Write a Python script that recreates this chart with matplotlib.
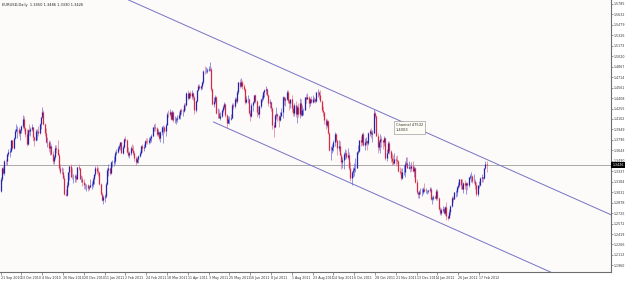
import matplotlib
matplotlib.use('Agg')
import matplotlib.pyplot as plt
import matplotlib.transforms as mtransforms
import numpy as np

symbol = "EURUSD,Daily"

# daily bars from 21 Sep 2010 to 27 Feb 2012 (prices in pips)
opens = [
 13050,13230,13380,13310,13490,13480,13590,13620,
 13630,13790,13680,13830,13920,13950,13960,13900,13940,14000,14100,13970,13880,13730,13940,13920,13950,13980,13840,13800,13920,
 13920,13890,14030,14130,14200,14030,13900,13770,13770,13680,13700,13590,13480,13540,13680,13670,13580,13380,13330,13330,13240,13000,
 12990,13140,13320,13410,13260,13250,13260,13270,13230,13400,13380,13230,13230,13180,13130,13130,13130,13090,13110,13140,13150,13230,13290,
 13380,13340,13320,13150,13000,12910,12960,12980,13150,13360,13380,13310,13470,13470,13480,13610,13620,13680,13710,13760,13600,
 13690,13810,13800,13620,13580,13600,13680,13650,13600,13530,13470,13510,13560,13610,13700,13680,13690,13780,13770,13760,
 13800,13820,13860,13980,13990,13970,13880,13910,13830,13910,13980,13990,13920,14020,14180,14170,14210,14100,14200,14090,14090,14100,14120,
 14160,14230,14220,14220,14310,14300,14480,14410,14480,14440,14480,14430,14230,14360,14520,14590,14560,14580,14640,14810,14800,
 14810,14820,14830,14830,14540,14320,14370,14420,14190,14190,14120,14150,14240,14280,14320,14160,14050,14100,14100,14120,14310,14290,
 14390,14360,14500,14640,14580,14650,14590,14540,14350,14390,14400,14190,14140,14300,14350,14460,14370,14210,14180,14290,14390,14410,
 14500,14520,14540,14460,14330,14350,14260,14020,13990,14160,14170,14150,14090,14150,14200,14420,14380,14400,14500,14360,14330,
 14390,14270,14190,14300,14170,14280,14180,14340,14160,14240,14240,14420,14400,14430,14330,14390,14350,14400,14400,14370,14490,14500,14450,
 14370,14240,14200,14090,14020,14070,13900,13650,13650,13690,13770,13880,13790,13680,13710,13580,13470,13500,13590,13600,13550,13580,
 13390,13240,13330,13350,13390,13390,13620,13630,13790,13760,13880,13720,13760,13780,13750,13890,13920,13880,13900,14190,14150,
 13860,13690,13760,13810,13790,13770,13830,13530,13610,13750,13630,13530,13480,13460,13520,13500,13490,13340,13330,13240,13320,13330,
 13440,13460,13390,13400,13390,13410,13340,13380,13180,13030,13000,13030,13040,13040,13080,13050,13050,13050,13060,13080,12930,12950,
 12960,12950,13050,12940,12780,12720,12770,12790,12720,12810,12680,12660,12740,12830,12950,12930,13030,13030,13100,13140,13220,13140,
 13080,13160,13140,13160,13140,13250,13270,13270,13200,13200,13140,13000,13130,13130,13240,13250,13240,13380,13450,
]
highs = [
 13260,13400,13420,13500,13520,13600,13660,13680,
 13800,13800,13840,13950,14030,14000,13990,13950,14020,14160,14150,13990,13950,13960,14030,13980,14030,13990,13860,13960,13960,
 14000,14050,14130,14280,14240,14050,13970,13840,13800,13780,13740,13640,13580,13720,13720,13790,13610,13440,13400,13380,13280,13080,
 13180,13330,13420,13440,13390,13300,13290,13290,13400,13450,13390,13280,13270,13230,13170,13150,13150,13130,13220,13190,13250,13300,13420,
 13430,13400,13330,13160,13040,12990,13000,13180,13380,13450,13400,13490,13500,13560,13630,13660,13700,13740,13760,13770,13720,
 13830,13860,13810,13690,13630,13700,13740,13720,13630,13560,13550,13580,13640,13720,13730,13740,13800,13820,13830,13840,
 13850,13880,13990,14030,14040,13990,13950,13920,13930,14000,14010,14000,14050,14200,14230,14250,14220,14240,14220,14140,14130,14160,14200,
 14250,14260,14250,14330,14340,14490,14520,14490,14510,14520,14490,14440,14380,14530,14610,14610,14600,14660,14820,14880,14860,
 14850,14880,14940,14860,14550,14420,14460,14440,14260,14250,14200,14250,14310,14350,14330,14170,14140,14150,14180,14340,14330,14430,
 14430,14520,14650,14680,14700,14670,14620,14550,14440,14450,14410,14230,14330,14360,14460,14470,14380,14290,14300,14400,14460,14510,
 14540,14580,14550,14470,14400,14370,14280,14060,14170,14280,14190,14160,14210,14260,14440,14440,14420,14520,14520,14390,14400,
 14450,14300,14330,14370,14300,14340,14410,14400,14300,14270,14430,14470,14480,14440,14410,14440,14450,14430,14410,14500,14540,14510,14530,
 14380,14290,14210,14120,14100,14090,13910,13700,13730,13800,13910,13900,13800,13790,13780,13600,13550,13620,13670,13650,13680,13620,
 13470,13340,13400,13460,13530,13640,13720,13800,13860,13900,13910,13830,13840,13800,13910,13960,13970,13940,14250,14220,14160,
 13890,13800,13880,13860,13800,13850,13840,13660,13780,13780,13650,13600,13570,13610,13560,13570,13500,13400,13390,13380,13430,13480,
 13550,13550,13480,13440,13470,13480,13420,13400,13220,13050,13060,13090,13090,13110,13160,13090,13070,13070,13100,13100,12980,12990,
 12990,13080,13080,12960,12820,12800,12830,12810,12830,12880,12700,12780,12850,12970,12980,13040,13070,13120,13180,13230,13230,13230,
 13180,13210,13180,13180,13260,13290,13320,13280,13290,13220,13180,13140,13200,13260,13290,13260,13390,13490,13486,
]
lows = [
 13040,13200,13290,13280,13430,13430,13560,13540,
 13620,13660,13660,13810,13910,13830,13860,13800,13890,13970,13930,13840,13700,13720,13870,13850,13920,13780,13700,13780,13800,
 13860,13880,13960,14120,14010,13860,13750,13690,13620,13580,13580,13440,13440,13520,13610,13570,13350,13290,13290,13220,12990,12970,
 12980,13100,13210,13250,13230,13170,13180,13180,13220,13350,13220,13180,13120,13080,13080,13050,13050,13060,13100,13080,13100,13150,13270,
 13300,13270,13130,12990,12900,12860,12880,12950,13140,13270,13280,13300,13400,13420,13440,13580,13600,13650,13650,13600,13590,
 13680,13770,13600,13540,13530,13580,13630,13580,13480,13430,13460,13460,13550,13590,13620,13640,13690,13730,13730,13740,
 13750,13760,13850,13930,13930,13850,13860,13790,13760,13870,13750,13900,13860,14010,14130,14140,14080,14090,14060,14040,14030,14060,14100,
 14100,14180,14140,14200,14240,14290,14380,14390,14410,14400,14380,14170,14200,14350,14510,14540,14530,14540,14620,14760,14780,
 14770,14800,14800,14510,14300,14280,14330,14180,14120,14110,14080,14130,14200,14250,14130,13970,14040,14030,14080,14110,14250,14260,
 14330,14340,14470,14560,14570,14540,14510,14320,14330,14330,14170,14070,14130,14220,14330,14330,14130,14160,14110,14270,14350,14380,
 14430,14470,14440,14290,14260,14220,13950,13840,13980,14100,14070,13990,14070,14140,14110,14310,14290,14380,14340,14230,14260,
 14210,14150,14140,14130,14050,14130,14120,14140,14150,14160,14230,14340,14390,14260,14290,14340,14330,14350,14330,14350,14430,14400,14350,
 14210,14140,14030,13950,13990,13880,13640,13500,13610,13630,13700,13760,13580,13630,13570,13370,13390,13370,13520,13510,13520,13360,
 13200,13140,13250,13270,13330,13390,13590,13620,13700,13720,13700,13650,13720,13650,13720,13860,13820,13770,13900,14110,13850,
 13600,13650,13610,13690,13660,13700,13500,13490,13600,13590,13470,13430,13430,13440,13420,13440,13320,13300,13210,13230,13280,13260,
 13420,13390,13370,13330,13340,13320,13260,13170,13000,12950,12940,13000,12980,13010,13030,13020,13000,13020,13030,12920,12860,12920,
 12940,12920,12920,12770,12690,12700,12740,12710,12700,12620,12620,12650,12700,12820,12880,12930,12960,12980,13080,13100,13080,13080,
 13020,13080,13010,13070,13110,13220,13180,13170,13170,13080,12980,12970,13090,13120,13180,13180,13220,13370,13330,
]
closes = [
 13230,13380,13310,13490,13480,13590,13620,13630,
 13790,13680,13830,13920,13950,13960,13900,13940,14000,14100,13970,13880,13730,13940,13920,13950,13980,13840,13800,13920,13920,
 13890,14030,14130,14200,14030,13900,13770,13770,13680,13700,13590,13480,13540,13680,13670,13580,13380,13330,13330,13240,13000,12990,
 13140,13320,13410,13260,13250,13260,13270,13230,13400,13380,13230,13230,13180,13130,13130,13130,13090,13110,13140,13150,13230,13290,13380,
 13340,13320,13150,13000,12910,12960,12980,13150,13360,13380,13310,13470,13470,13480,13610,13620,13680,13710,13760,13600,13690,
 13810,13800,13620,13580,13600,13680,13650,13600,13530,13470,13510,13560,13610,13700,13680,13690,13780,13770,13760,13800,
 13820,13860,13980,13990,13970,13880,13910,13830,13910,13980,13990,13920,14020,14180,14170,14210,14100,14200,14090,14090,14100,14120,14160,
 14230,14220,14220,14310,14300,14480,14410,14480,14440,14480,14430,14230,14360,14520,14590,14560,14580,14640,14810,14800,14810,
 14820,14830,14830,14540,14320,14370,14420,14190,14190,14120,14150,14240,14280,14320,14160,14050,14100,14100,14120,14310,14290,14390,
 14360,14500,14640,14580,14650,14590,14540,14350,14390,14400,14190,14140,14300,14350,14460,14370,14210,14180,14290,14390,14410,14500,
 14520,14540,14460,14330,14350,14260,14020,13990,14160,14170,14150,14090,14150,14200,14420,14380,14400,14500,14360,14330,14390,
 14270,14190,14300,14170,14280,14180,14340,14160,14240,14240,14420,14400,14430,14330,14390,14350,14400,14400,14370,14490,14500,14450,14370,
 14240,14200,14090,14020,14070,13900,13650,13650,13690,13770,13880,13790,13680,13710,13580,13470,13500,13590,13600,13550,13580,13390,
 13240,13330,13350,13390,13390,13620,13630,13790,13760,13880,13720,13760,13780,13750,13890,13920,13880,13900,14190,14150,13860,
 13690,13760,13810,13790,13770,13830,13530,13610,13750,13630,13530,13480,13460,13520,13500,13490,13340,13330,13240,13320,13330,13440,
 13460,13390,13400,13390,13410,13340,13380,13180,13030,13000,13030,13040,13040,13080,13050,13050,13050,13060,13080,12930,12950,12960,
 12950,13050,12940,12780,12720,12770,12790,12720,12810,12680,12660,12740,12830,12950,12930,13030,13030,13100,13140,13220,13140,13080,
 13160,13140,13160,13140,13250,13270,13270,13200,13200,13140,13000,13130,13130,13240,13250,13240,13380,13450,13426,
]

date_labels = ["21 Sep 2010", "13 Oct 2010", "4 Nov 2010", "26 Nov 2010", "20 Dec 2010",
               "11 Jan 2011", "2 Feb 2011", "24 Feb 2011", "18 Mar 2011", "11 Apr 2011",
               "3 May 2011", "25 May 2011", "16 Jun 2011", "8 Jul 2011", "1 Aug 2011",
               "23 Aug 2011", "14 Sep 2011", "6 Oct 2011", "28 Oct 2011", "21 Nov 2011",
               "13 Dec 2011", "4 Jan 2012", "26 Jan 2012", "17 Feb 2012"]
price_ticks = [1.5785, 1.5632, 1.5479, 1.5326, 1.5173, 1.5020, 1.4867, 1.4714, 1.4561,
               1.4408, 1.4255, 1.4102, 1.3949, 1.3796, 1.3643, 1.3490, 1.3337, 1.3184,
               1.3031, 1.2878, 1.2725, 1.2572, 1.2419, 1.2266, 1.2113, 1.1960]

channel_name = "Channel 47532"
channel_value = 1.4003
channel_bars = [98.5, 470.0]
channel_upper = [1.5843, 1.2697]
channel_width = 0.1232
channel_lower_start = 163.8

n = min(len(opens), len(highs), len(lows), len(closes))
o = np.array(opens[:n]) / 10000.0
h = np.array(highs[:n]) / 10000.0
l = np.array(lows[:n]) / 10000.0
c = np.array(closes[:n]) / 10000.0
idx = np.arange(n)
current_price = c[-1]

fig = plt.figure(figsize=(6.25, 2.84), dpi=100)
fig.patch.set_facecolor('white')
ax = fig.add_axes([0, 12 / 284, 611 / 625, 272 / 284])
ax.set_facecolor('#fdfafa')

up = c >= o
wick_col = np.where(up, '#6b6bd6', '#e07a90')
body_col = np.where(up, '#2424a8', '#d42844')
ax.vlines(idx, l, h, colors=wick_col, linewidth=0.5, zorder=3)
ax.vlines(idx, np.minimum(o, c), np.maximum(o, c), colors=body_col, linewidth=0.9, zorder=4)

# current bid line
ax.axhline(current_price, color='#a9a9a9', linewidth=0.7, zorder=2)

# equidistant channel
ax.plot(channel_bars, channel_upper, color='#7474c4', linewidth=0.7, zorder=2)
lower_y0 = np.interp(channel_lower_start, channel_bars, channel_upper) - channel_width
lower_y1 = channel_upper[1] - channel_width
ax.plot([channel_lower_start, channel_bars[1]], [lower_y0, lower_y1],
        color='#7474c4', linewidth=0.7, zorder=2)

ax.set_xlim(-0.4, 469.6)
ax.set_ylim(1.1863, 1.5843)

# axes styling
for s in ['top', 'left']:
    ax.spines[s].set_visible(False)
for s in ['right', 'bottom']:
    ax.spines[s].set_color('#6e6e6e')
    ax.spines[s].set_linewidth(0.8)

ax.yaxis.tick_right()
ax.set_yticks(price_ticks)
ax.set_yticklabels([f"{v:.4f}" for v in price_ticks])
ax.tick_params(axis='y', labelsize=2.3, length=1.2, width=0.5, pad=0.6,
               colors='#6e6e6e', labelcolor='#333333')
ticks_x = list(range(0, n, 16))[:len(date_labels)]
ax.set_xticks(ticks_x)
ax.set_xticklabels(date_labels[:len(ticks_x)], ha='left')
ax.tick_params(axis='x', labelsize=2.3, length=2, width=0.5, pad=1.2,
               colors='#6e6e6e', labelcolor='#333333')

# current price label on the axis
trans = mtransforms.blended_transform_factory(ax.transAxes, ax.transData)
ax.text(1.002, current_price, f"{current_price:.4f}", transform=trans, ha='left',
        va='center', fontsize=2.3, color='white', clip_on=False,
        bbox=dict(facecolor='black', edgecolor='none', pad=0.6), zorder=10)

# header
ax.text(0.004, 0.99, f"{symbol}  {o[-1]:.4f} {h[-1]:.4f} {l[-1]:.4f} {c[-1]:.4f}",
        transform=ax.transAxes, ha='left', va='top', fontsize=2.6, color='#222222')

# tooltip of the channel object
ax.text(304, 1.4043, f"{channel_name}\n{channel_value:.4f}", ha='left', va='top',
        fontsize=2.6, color='#333333', linespacing=1.3, zorder=8,
        bbox=dict(facecolor='#fdfdf5', edgecolor='#888888', linewidth=0.4, pad=1.2))

fig.savefig('out.png', dpi=100, facecolor='white')
